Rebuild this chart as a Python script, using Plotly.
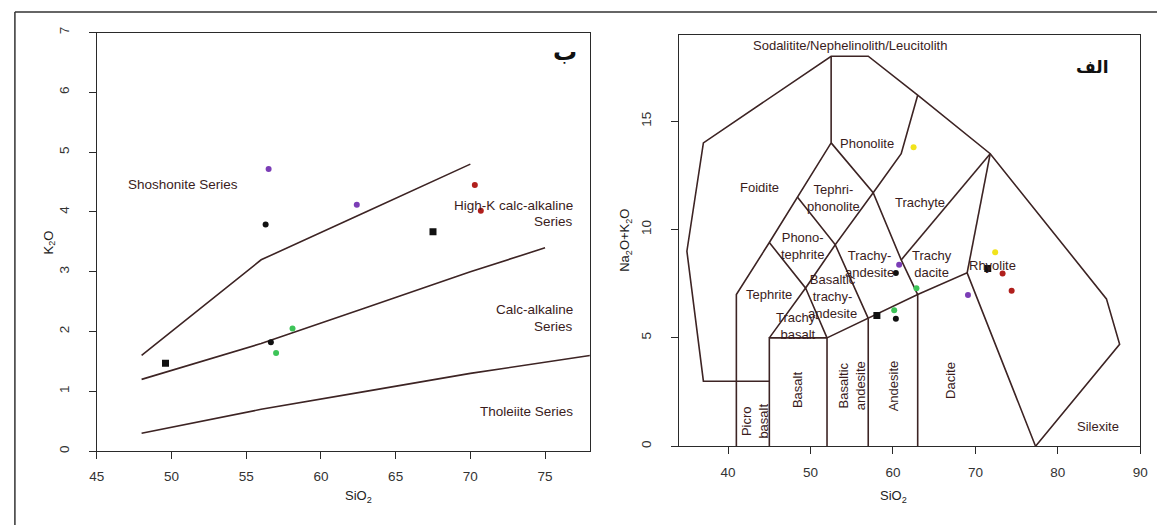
import plotly.graph_objects as go

W, H = 1165, 527

# ---------------- Left panel: K2O vs SiO2 (Peccerillo & Taylor) ----------------
k_purple_x = [56.5, 62.4]
k_purple_y = [4.72, 4.12]
k_red_x = [70.3, 70.7]
k_red_y = [4.45, 4.02]
k_green_x = [58.1, 57.0]
k_green_y = [2.05, 1.64]
k_blackc_x = [56.3, 56.65]
k_blackc_y = [3.79, 1.82]
k_blacks_x = [49.6, 67.5]
k_blacks_y = [1.47, 3.67]

sho_x = [48, 52, 56, 63, 70]
sho_y = [1.6, 2.4, 3.2, 4.0, 4.8]
calc_x = [48, 52, 56, 63, 70, 75]
calc_y = [1.2, 1.5, 1.8, 2.4, 3.0, 3.4]
thol_x = [48, 52, 56, 63, 70, 78]
thol_y = [0.3, 0.5, 0.7, 1.0, 1.3, 1.6]

left_xticks = [45, 50, 55, 60, 65, 70, 75]
left_yticks = [0, 1, 2, 3, 4, 5, 6, 7]

# series labels: (text, x, y, xanchor)
left_labels = [
    ("Shoshonite Series", 50.8, 4.46, "center"),
    ("High-K calc-alkaline", 77.0, 4.10, "right"),
    ("Series", 77.0, 3.84, "right"),
    ("Calc-alkaline", 77.0, 2.37, "right"),
    ("Series", 77.0, 2.09, "right"),
    ("Tholeiite Series", 77.0, 0.66, "right"),
]

# ---------------- Right panel: TAS (Middlemost 1994) ----------------
t_yellow_x = [62.5, 72.4]
t_yellow_y = [13.8, 8.95]
t_purple_x = [60.75, 69.1]
t_purple_y = [8.38, 6.98]
t_red_x = [73.3, 74.4]
t_red_y = [7.97, 7.17]
t_green_x = [62.85, 60.15]
t_green_y = [7.29, 6.27]
t_blackc_x = [60.35, 60.35]
t_blackc_y = [8.0, 5.88]
t_blacks_x = [58.05, 71.5]
t_blacks_y = [6.03, 8.2]

tas_lines = [
    [(45, 3), (37, 3), (35, 9), (37, 14), (52.5, 18), (57, 18), (63, 16.2),
     (71.8, 13.5), (85.9, 6.8), (87.5, 4.7), (77.3, 0)],
    [(41, 0), (41, 7), (45, 9.4), (48.4, 11.5), (52.5, 14), (52.5, 18)],
    [(45, 0), (45, 5), (52, 5), (52, 0)],
    [(52, 5), (57, 5.9), (63, 7), (69, 8), (77.3, 0)],
    [(57, 0), (57, 5.9)],
    [(63, 0), (63, 7)],
    [(45, 5), (49.4, 7.3), (52, 5)],
    [(45, 9.4), (49.4, 7.3), (53, 9.3), (57, 5.9)],
    [(48.4, 11.5), (53, 9.3), (57.6, 11.7), (61, 13.5), (63, 16.2)],
    [(52.5, 14), (57.6, 11.7), (61, 8.6), (63, 7)],
    [(61, 8.6), (71.8, 13.5)],
    [(69, 8), (71.8, 13.5)],
]

right_xticks = [40, 50, 60, 70, 80, 90]
right_yticks = [0, 5, 10, 15]

# field labels: (text, x, y, angle)
tas_labels = [
    ("Sodalitite/Nephelinolith/Leucitolith", 54.8, 18.5, 0),
    ("Phonolite", 56.8, 13.95, 0),
    ("Foidite", 43.8, 11.95, 0),
    ("Tephri-<br>phonolite", 52.8, 11.45, 0),
    ("Trachyte", 63.3, 11.26, 0),
    ("Phono-<br>tephrite", 49.0, 9.26, 0),
    ("Trachy-<br>andesite", 57.1, 8.41, 0),
    ("Trachy<br>dacite", 64.7, 8.41, 0),
    ("Rhyolite", 72.1, 8.32, 0),
    ("Tephrite", 45.0, 7.0, 0),
    ("Basaltic<br>trachy-<br>andesite", 52.7, 6.9, 0),
    ("Trachy-<br>basalt", 48.5, 5.55, 0),
    ("Picro<br>basalt", 43.3, 1.15, -90),
    ("Basalt", 48.5, 2.6, -90),
    ("Basaltic<br>andesite", 55.0, 2.8, -90),
    ("Andesite", 60.1, 2.8, -90),
    ("Dacite", 66.9, 3.05, -90),
    ("Silexite", 84.85, 0.92, 0),
]

PURPLE = "#7b3db6"
RED = "#b01f1c"
GREEN = "#3dc458"
YELLOW = "#f1e31c"
BLACK = "#111111"
LINE = "#3d2424"
TXT = "#3a1c1c"
FONT = "Liberation Sans, Arial, Helvetica, sans-serif"

fig = go.Figure()


def pts(x, y, color, symbol, size, xa, ya):
    fig.add_trace(go.Scatter(x=x, y=y, mode="markers", xaxis=xa, yaxis=ya,
                             marker=dict(color=color, symbol=symbol, size=size,
                                         line=dict(width=0)),
                             showlegend=False, hoverinfo="skip"))


def line(x, y, xa, ya, color=LINE):
    fig.add_trace(go.Scatter(x=x, y=y, mode="lines", xaxis=xa, yaxis=ya,
                             line=dict(color=color, width=1.6),
                             showlegend=False, hoverinfo="skip"))


# left lines
line(sho_x, sho_y, "x", "y")
line(calc_x, calc_y, "x", "y")
line(thol_x, thol_y, "x", "y")
# left points
pts(k_purple_x, k_purple_y, PURPLE, "circle", 6, "x", "y")
pts(k_red_x, k_red_y, RED, "circle", 6, "x", "y")
pts(k_green_x, k_green_y, GREEN, "circle", 6, "x", "y")
pts(k_blackc_x, k_blackc_y, BLACK, "circle", 6, "x", "y")
pts(k_blacks_x, k_blacks_y, BLACK, "square", 7, "x", "y")

# TAS lines
for seg in tas_lines:
    line([p[0] for p in seg], [p[1] for p in seg], "x2", "y2")
pts(t_yellow_x, t_yellow_y, YELLOW, "circle", 6, "x2", "y2")
pts(t_purple_x, t_purple_y, PURPLE, "circle", 6, "x2", "y2")
pts(t_red_x, t_red_y, RED, "circle", 6, "x2", "y2")
pts(t_green_x, t_green_y, GREEN, "circle", 6, "x2", "y2")
pts(t_blackc_x, t_blackc_y, BLACK, "circle", 6, "x2", "y2")
pts(t_blacks_x, t_blacks_y, BLACK, "square", 7, "x2", "y2")

annotations = []
for text, x, y, xa in left_labels:
    annotations.append(dict(text=text, x=x, y=y, xref="x", yref="y", showarrow=False,
                            xanchor=xa, yanchor="middle",
                            font=dict(family=FONT, size=13.5, color=TXT)))
for text, x, y, ang in tas_labels:
    annotations.append(dict(text=text, x=x, y=y, xref="x2", yref="y2", showarrow=False,
                            textangle=ang, xanchor="center", yanchor="middle",
                            font=dict(family=FONT, size=13, color=TXT)))

# axis titles
title_font = dict(family=FONT, size=13, color="#222")
annotations += [
    dict(text="SiO<sub>2</sub>", x=340 / W, y=1 - 509 / H, xref="paper", yref="paper",
         showarrow=False, font=title_font),
    dict(text="SiO<sub>2</sub>", x=914 / W, y=1 - 509 / H, xref="paper", yref="paper",
         showarrow=False, font=title_font),
    dict(text="K<sub>2</sub>O", x=31 / W, y=1 - 240 / H, xref="paper", yref="paper",
         showarrow=False, textangle=-90, font=title_font),
    dict(text="Na<sub>2</sub>O+K<sub>2</sub>O", x=626 / W, y=1 - 238 / H, xref="paper",
         yref="paper", showarrow=False, textangle=-90, font=title_font),
    dict(text="<b>ب</b>", x=565 / W, y=1 - 30 / H, xref="paper", yref="paper",
         showarrow=False, font=dict(family="DejaVu Sans", size=24, color="#111")),
    dict(text="<b>الف</b>", x=1117 / W, y=1 - 50 / H, xref="paper", yref="paper",
         showarrow=False, font=dict(family="DejaVu Sans", size=17, color="#111")),
]

axis_common = dict(showline=True, mirror=True, linecolor="#2a2a2a", linewidth=1.3,
                   ticks="outside", ticklen=7, tickwidth=1.2, tickcolor="#2a2a2a",
                   showgrid=False, zeroline=False,
                   tickfont=dict(family=FONT, size=13.5, color="#333"))

fig.update_layout(
    width=W, height=H,
    margin=dict(l=0, r=0, t=0, b=0),
    paper_bgcolor="white", plot_bgcolor="white",
    xaxis=dict(domain=[90 / W, 590 / W], range=[45, 78], tickvals=left_xticks,
               anchor="y", ticklabelstandoff=6, **axis_common),
    yaxis=dict(domain=[1 - 452 / H, 1 - 27 / H], range=[0, 7], tickvals=left_yticks,
               anchor="x", tickangle=-90, ticklabelstandoff=14, **axis_common),
    xaxis2=dict(domain=[680 / W, 1148 / W], range=[34, 90], tickvals=right_xticks,
                anchor="y2", ticklabelstandoff=6, **axis_common),
    yaxis2=dict(domain=[1 - 447 / H, 1 - 29 / H], range=[0, 19], tickvals=right_yticks,
                anchor="x2", tickangle=-90, ticklabelstandoff=14, **axis_common),
    annotations=annotations,
    shapes=[
        dict(type="line", xref="paper", yref="paper", x0=7 / W, x1=1, y0=1 - 6 / H,
             y1=1 - 6 / H, line=dict(color="#333", width=1.5)),
        dict(type="line", xref="paper", yref="paper", x0=7 / W, x1=7 / W, y0=0,
             y1=1 - 6 / H, line=dict(color="#333", width=1.5)),
    ],
)

fig.write_html("out.html",
               config={"displayModeBar": False},
               post_script="document.body.style.margin='0px';"
                           "document.body.style.overflow='hidden';")
